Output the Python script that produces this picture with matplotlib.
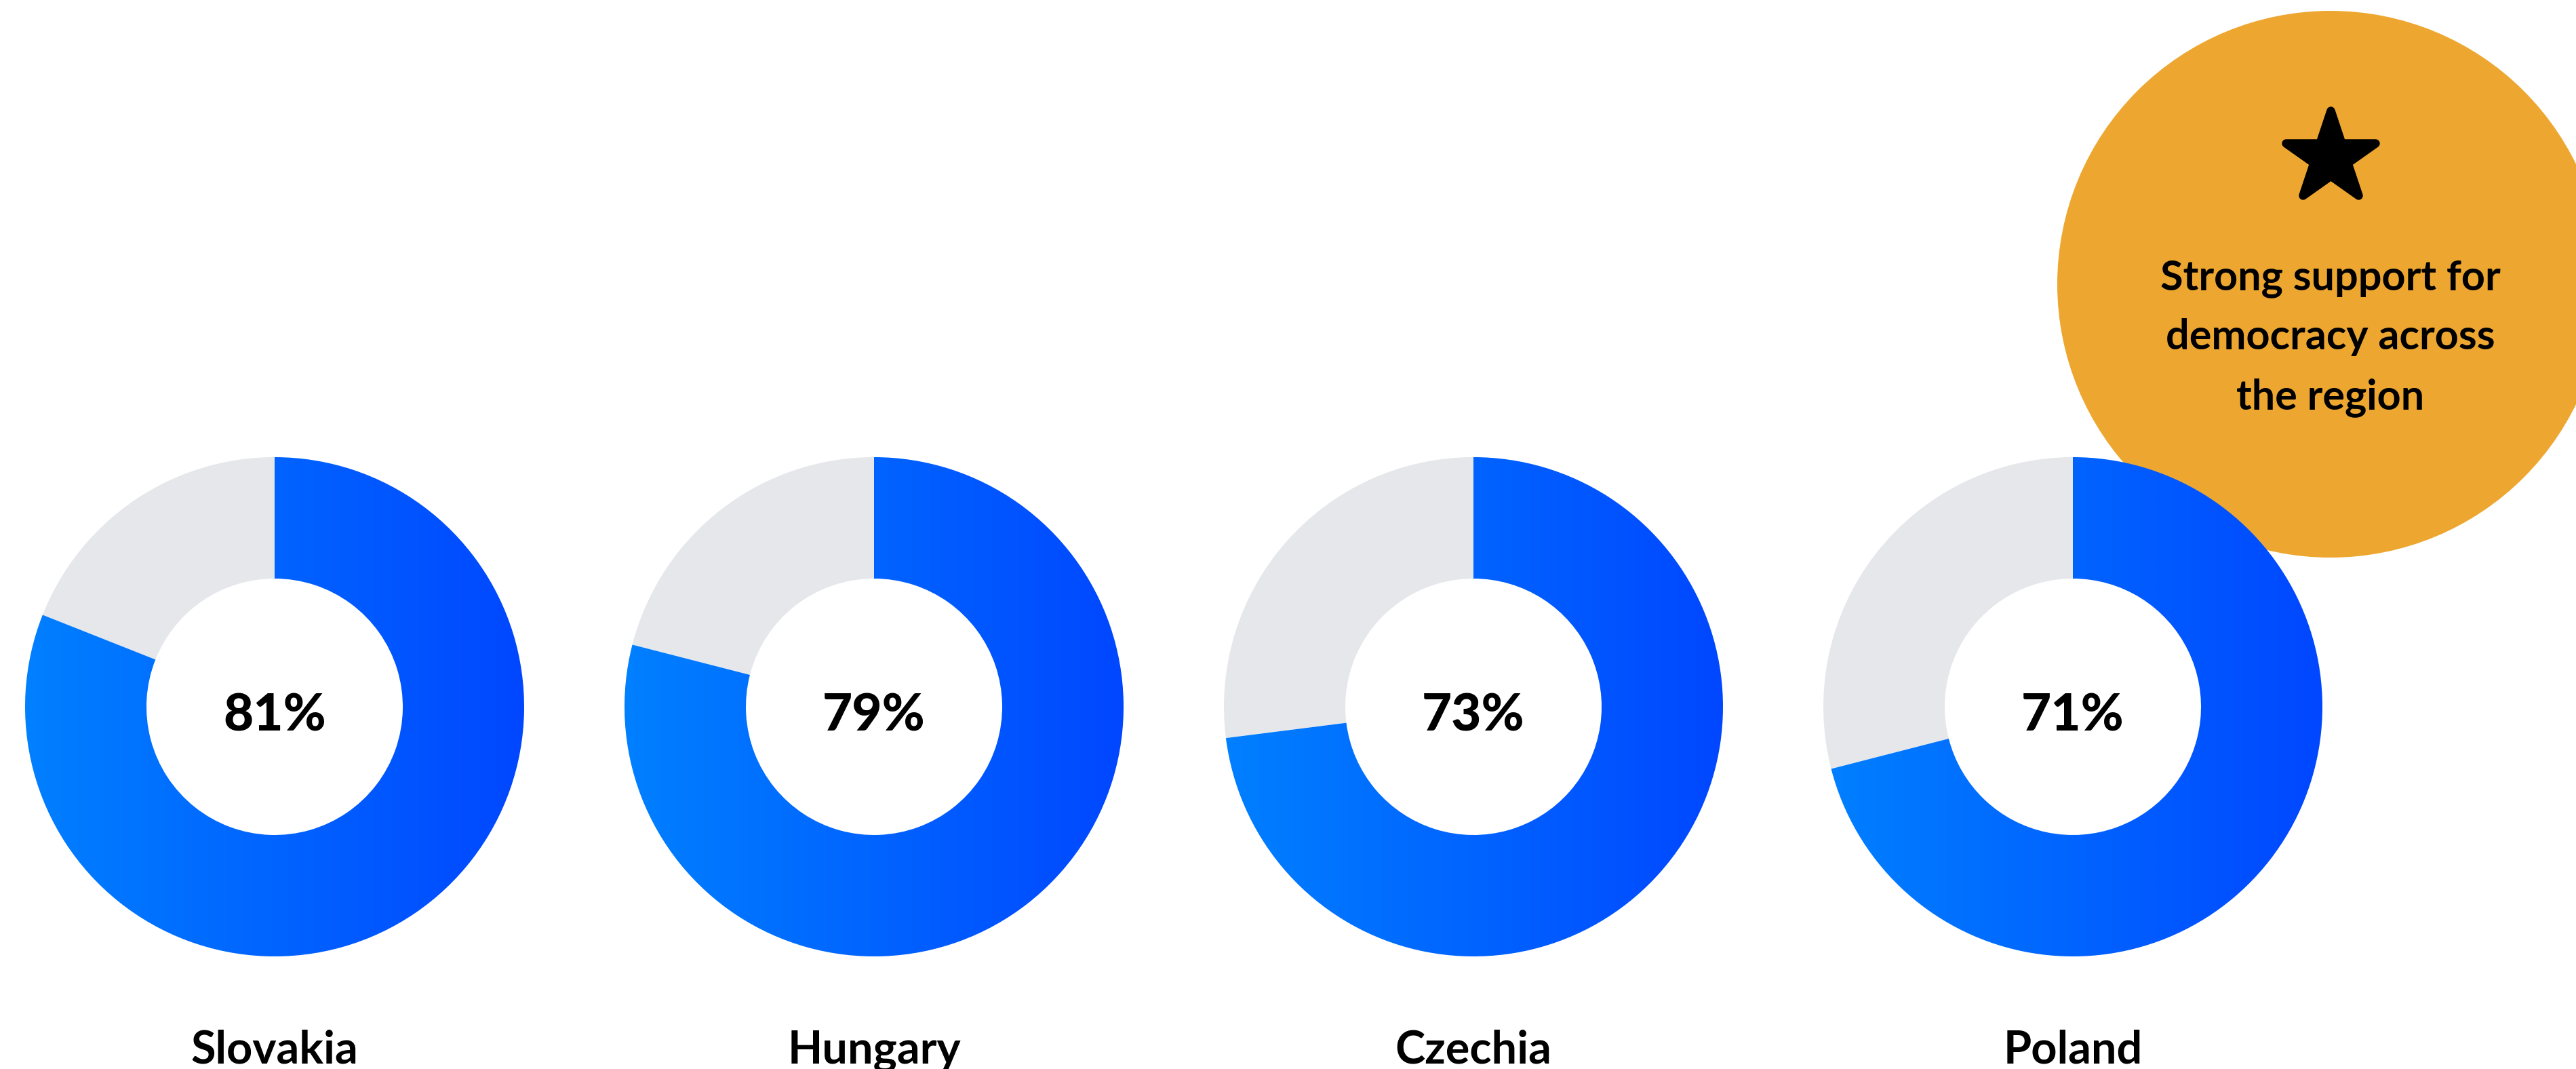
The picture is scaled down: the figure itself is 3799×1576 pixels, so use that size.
import numpy as np
import matplotlib.pyplot as plt
from matplotlib.colors import LinearSegmentedColormap
from matplotlib.markers import MarkerStyle
from matplotlib.patches import Circle


plt.rcParams["font.family"] = ["Lato", "DejaVu Sans"]
plt.rcParams["axes.unicode_minus"] = False


countries = ["Slovakia", "Hungary", "Czechia", "Poland"]
support_pct = [81, 79, 73, 71]
callout_lines = ["Strong support for", "democracy across", "the region"]

# colours
BLUE_LEFT = "#0080FF"
BLUE_RIGHT = "#0047FF"
GREY = "#E5E7EB"
ORANGE = "#EDA730"

# layout, in pixels (1 data unit = 1 pixel, y upwards)
FIG_W, FIG_H = 3799, 1576
DPI = 100
R_OUT = 368
R_IN = 189
FIRST_CX = 405
SPACING = 884
DONUT_CY = FIG_H - 1042
LABEL_Y = 8

CALLOUT_CX = 3437
CALLOUT_CY = FIG_H - 419
CALLOUT_R = 403


def draw_donut(ax, cx, cy, pct, country, cmap):
    wedges, _ = ax.pie(
        [pct, 100 - pct],
        center=(cx, cy),
        radius=R_OUT,
        startangle=90,
        counterclock=False,
        colors=[BLUE_RIGHT, GREY],
        wedgeprops=dict(width=R_OUT - R_IN, linewidth=0),
        frame=True,
    )
    blue = wedges[0]
    blue.set_facecolor("none")
    blue.set_zorder(2)
    wedges[1].set_zorder(2)

    # horizontal gradient, clipped to the blue slice
    grad = np.linspace(0.0, 1.0, 512).reshape(1, -1)
    im = ax.imshow(
        grad,
        cmap=cmap,
        extent=(cx - R_OUT, cx + R_OUT, cy - R_OUT, cy + R_OUT),
        aspect="auto",
        interpolation="bilinear",
        zorder=2,
    )
    im.set_clip_path(blue)

    ax.text(cx, cy - 36, f"{pct}%", ha="center", va="baseline",
            fontsize=55, fontweight="black", color="black", zorder=3)
    ax.text(cx, LABEL_Y, country, ha="center", va="baseline",
            fontsize=48, fontweight="bold", color="black", zorder=3)


def draw_callout(ax):
    ax.add_patch(Circle((CALLOUT_CX, CALLOUT_CY), CALLOUT_R,
                        facecolor=ORANGE, edgecolor="none", zorder=1))
    star = MarkerStyle("*", joinstyle="round")
    ax.plot([CALLOUT_CX], [CALLOUT_CY + 187], marker=star, ms=100,
            color="black", mec="black", mew=9, zorder=1.5)
    for i, line in enumerate(callout_lines):
        ax.text(CALLOUT_CX, CALLOUT_CY - 8 - 88 * i, line, ha="center",
                va="baseline", fontsize=44, fontweight="bold",
                color="black", zorder=1.5)


def main():
    fig = plt.figure(figsize=(FIG_W / DPI, FIG_H / DPI), dpi=DPI)
    fig.patch.set_facecolor("white")
    ax = fig.add_axes([0, 0, 1, 1])

    cmap = LinearSegmentedColormap.from_list("blues", [BLUE_LEFT, BLUE_RIGHT])

    draw_callout(ax)
    for i, (country, pct) in enumerate(zip(countries, support_pct)):
        draw_donut(ax, FIRST_CX + SPACING * i, DONUT_CY, pct, country, cmap)

    ax.set_xlim(0, FIG_W)
    ax.set_ylim(0, FIG_H)
    ax.set_aspect("auto")
    ax.axis("off")

    fig.savefig("out.png", dpi=DPI, facecolor="white")
    plt.close(fig)


if __name__ == "__main__":
    main()
